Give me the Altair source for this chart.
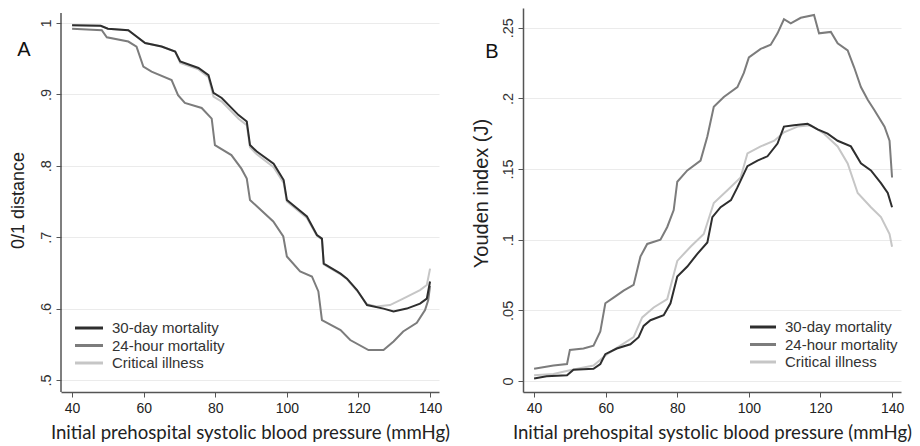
import altair as alt
import pandas as pd

series = ["30-day mortality", "24-hour mortality", "Critical illness"]
colors = ["#2e2e2e", "#7c7c7c", "#c6c6c6"]
panel_letters = ["A", "B"]
x_ticks = [40, 60, 80, 100, 120, 140]
a_ticks = [0.5, 0.6, 0.7, 0.8, 0.9, 1.0]
b_ticks = [0, 0.05, 0.1, 0.15, 0.2, 0.25]
x_title = "Initial prehospital systolic blood pressure (mmHg)"
a_title = "0/1 distance"
b_title = "Youden index (J)"

# ---- Panel A: 0/1 distance ----
a30_bp = [40, 48, 50, 55.7, 58, 60.4, 65, 68.8, 70.2, 75.3, 78.1, 79.5, 81.8, 86.5, 88.8, 89.7, 91.6, 96.3,
          99.1, 100, 105.6, 108.4, 109.8, 110.3, 115, 116.8, 119.6, 122.4, 127, 129.8, 133.5, 137.2, 139.1, 140]
a30_val = [.997, .996, .992, .990, .981, .972, .967, .960, .946, .937, .927, .902, .895, .871, .862, .829, .820, .803,
           .780, .752, .729, .703, .698, .663, .649, .642, .626, .605, .600, .596, .600, .607, .614, .638]

a24_bp = [40, 48.3, 49.7, 55.7, 58, 59.9, 62.2, 67.8, 69.6, 71.5, 76.2, 79, 79.9, 84.5, 87.3, 88.8, 89.7, 90.6,
          96.2, 99, 100, 103.7, 107, 108.8, 109.8, 115, 117.7, 122.8, 127, 129.8, 132.5, 136.3, 138.6, 139.5, 140]
a24_val = [.992, .990, .980, .974, .967, .939, .932, .920, .899, .888, .881, .866, .829, .815, .796, .782, .752, .748,
           .722, .701, .673, .652, .645, .624, .584, .570, .556, .542, .542, .554, .568, .580, .598, .612, .632]

aci_bp = [40, 48, 50, 55.7, 58, 60.4, 65, 68.8, 70.2, 75.3, 78.1, 79.5, 81.8, 86.5, 88.8, 89.7, 91.6, 96.3,
          99.1, 100, 105.6, 108.4, 109.8, 110.3, 115, 116.8, 119.6, 122.4, 125, 128.8, 132.5, 137.2, 139.1, 140]
aci_val = [.997, .996, .992, .990, .981, .972, .967, .960, .944, .935, .924, .897, .890, .866, .857, .826, .816, .798,
           .776, .750, .727, .702, .697, .662, .648, .641, .625, .606, .603, .605, .614, .626, .633, .656]

# ---- Panel B: Youden index ----
b30_bp = [40, 43.5, 49.2, 51, 56.6, 58.5, 59.9, 63.1, 66.9, 69.2, 70.6, 72.5, 76.2, 78.1, 80, 82.8, 85.6, 88.4,
          89.8, 92.1, 95, 96.8, 99.6, 102.4, 105.2, 108, 109.8, 112.6, 116.4, 119.2, 122, 124.8, 128.5, 131.3,
          134.1, 136.9, 138.8, 140]
b30_val = [.0017, .0033, .004, .008, .0087, .012, .019, .023, .026, .031, .039, .043, .0465, .055, .074, .081, .090,
           .098, .116, .123, .128, .137, .152, .156, .159, .168, .180, .181, .182, .178, .175, .170, .166, .154,
           .149, .140, .133, .123]

b24_bp = [40, 45.4, 49.2, 50, 53.8, 56.6, 58.5, 59.9, 62.2, 65, 67.8, 69.7, 71.6, 75.3, 77.2, 79, 80, 82.8, 86.5,
          88.4, 90.2, 93, 96.8, 98.6, 100, 103.3, 106.1, 108, 109.8, 111.7, 114.5, 118.2, 119.6, 122.9, 124.8,
          127.6, 129.4, 131.3, 133.2, 135, 137.9, 139.3, 140]
b24_val = [.0087, .011, .012, .022, .023, .025, .035, .055, .059, .064, .068, .088, .097, .100, .109, .121, .141,
           .149, .156, .173, .194, .201, .208, .218, .229, .235, .238, .246, .256, .253, .257, .259, .246, .247,
           .239, .234, .222, .208, .199, .192, .180, .170, .144]

bci_bp = [40, 45.4, 50, 56.6, 60.4, 64.1, 67.8, 70.2, 73.4, 77.2, 80, 83.7, 87.4, 90.2, 94, 97.7, 99.6, 103.3,
          107.1, 109.8, 113.6, 117.3, 121, 124.8, 127.6, 130.4, 134.1, 136.9, 139.3, 140]
bci_val = [.004, .005, .0076, .011, .019, .025, .031, .045, .052, .058, .085, .095, .104, .126, .135, .144, .161,
           .166, .170, .176, .180, .181, .175, .166, .154, .133, .123, .116, .104, .095]

FONT = "Liberation Sans"
TFONT = "Lato"
AX = "#555555"


def frame(bp, val, name):
    return pd.DataFrame({"bp": bp, "val": val, "series": name})


def panel(curves, ydomain, yticks, ytitle, ytitle_x, ytitle_y, ytitle_size, letter, letter_x, letter_y,
          leg_x, leg_y, leg_len, draw_rule=None, domain_on=True):
    x = alt.X("bp:Q", scale=alt.Scale(domain=[36.9, 142.5], nice=False, zero=False),
              axis=alt.Axis(values=x_ticks, title=x_title, grid=False, domain=True, domainColor=AX,
                            domainWidth=1.5, ticks=True, tickSize=5, tickColor=AX, tickWidth=1,
                            labelFont=FONT, labelFontSize=14, labelColor="#222", labelPadding=4,
                            titleFont=TFONT, titleFontSize=18.6, titleFontWeight="normal", titleColor="#222",
                            titleY=46, titleBaseline="alphabetic"))
    y = alt.Y("val:Q", scale=alt.Scale(domain=ydomain, nice=False, zero=False),
              axis=alt.Axis(values=yticks,
                            labelExpr="datum.value == 0 ? '0' : datum.value == 1 ? '1' : slice(format(datum.value, '~g'), 1)",
                            labelAngle=270, labelAlign="center", labelBaseline="bottom", labelPadding=3,
                            labelFont=FONT, labelFontSize=14.5, labelColor="#333",
                            grid=True, gridColor="#ebebeb", gridWidth=1,
                            domain=domain_on, domainColor=AX, domainWidth=1.5,
                            ticks=True, tickSize=5, tickColor=AX, tickWidth=1,
                            title=ytitle, titleFont=FONT, titleFontSize=ytitle_size, titleFontWeight="normal",
                            titleColor="#222", titleAngle=270, titleAlign="center", titleBaseline="middle",
                            titleX=ytitle_x, titleY=ytitle_y))
    layers = []
    for name, col, df in reversed(curves):
        layers.append(alt.Chart(df).mark_line(color=col, strokeWidth=2).encode(x=x, y=y))
    if draw_rule is not None:
        layers.append(alt.Chart(pd.DataFrame({"k": [0]})).mark_rule(color=AX, strokeWidth=1.5).encode(
            x=alt.value(0), y=alt.datum(draw_rule[0]), y2=alt.datum(draw_rule[1])))
    for i, (name, col, df) in enumerate(curves):
        lab = pd.DataFrame({"label": [name]})
        yy = leg_y + i * 17.5
        layers.append(alt.Chart(lab).mark_rule(color=col, strokeWidth=3).encode(
            x=alt.value(leg_x), x2=alt.value(leg_x + leg_len), y=alt.value(yy)))
        layers.append(alt.Chart(lab).mark_text(align="left", baseline="middle", font=FONT, fontSize=15,
                                               color="#333").encode(
            x=alt.value(leg_x + leg_len + 9), y=alt.value(yy), text="label:N"))
    layers.append(alt.Chart(pd.DataFrame({"letter": [letter]})).mark_text(
        align="center", baseline="alphabetic", font=FONT, fontSize=20, color="#111").encode(
        x=alt.value(letter_x), y=alt.value(letter_y), text="letter:N"))
    return alt.layer(*layers).properties(width=378, height=384)


curves_a = [(series[0], colors[0], frame(a30_bp, a30_val, series[0])),
            (series[1], colors[1], frame(a24_bp, a24_val, series[1])),
            (series[2], colors[2], frame(aci_bp, aci_val, series[2]))]
curves_b = [(series[0], colors[0], frame(b30_bp, b30_val, series[0])),
            (series[1], colors[1], frame(b24_bp, b24_val, series[1])),
            (series[2], colors[2], frame(bci_bp, bci_val, series[2]))]

pa = panel(curves_a, [0.4832, 1.021], a_ticks, a_title, -43, 192, 18, panel_letters[0], -37, 48,
           14, 320, 28, draw_rule=(1.014, 0.4832), domain_on=False)
pb = panel(curves_b, [-0.00778, 0.26394], b_ticks, b_title, -42, 185, 20, panel_letters[1], -31, 50,
           227, 319, 26)

chart = alt.hconcat(pa, pb, spacing=84, bounds="flush").resolve_scale(
    x="independent", y="independent").properties(
    padding={"left": 1, "top": 0, "right": 0, "bottom": 0}).configure_view(stroke=None)

chart.save("out.html", embed_options={"renderer": "svg", "actions": False})
